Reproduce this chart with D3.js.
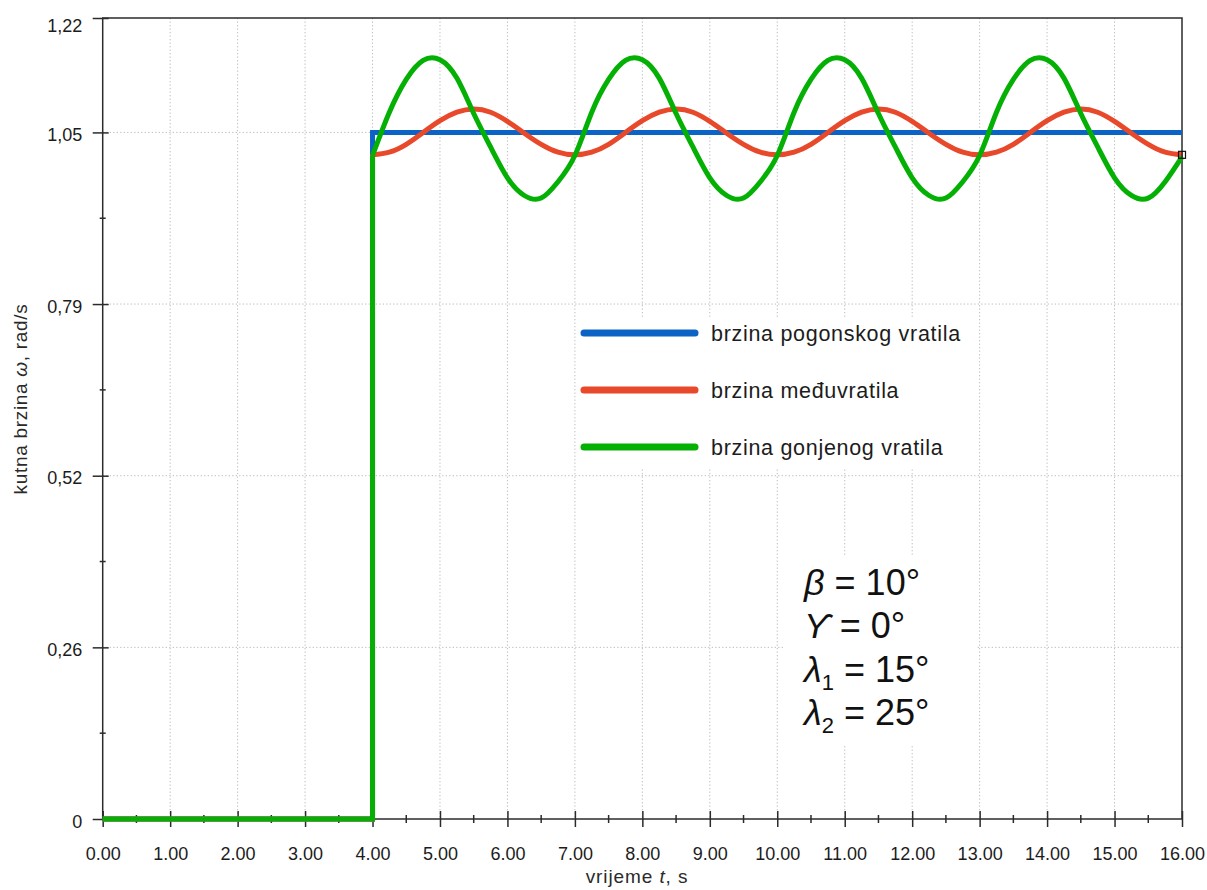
<!DOCTYPE html>
<html>
<head>
<meta charset="utf-8">
<script src="https://cdn.jsdelivr.net/npm/d3@7"></script>
<style>
  body { margin: 0; background: #ffffff; }
  svg { display: block; }
</style>
</head>
<body>
<svg id="chart" width="1207" height="890"></svg>
<script>
// ---------------- data ----------------
const xTickValues = [0, 1, 2, 3, 4, 5, 6, 7, 8, 9, 10, 11, 12, 13, 14, 15, 16];
const xMinorTicks = [0.5, 1.5, 2.5, 3.5, 4.5, 5.5, 6.5, 7.5, 8.5, 9.5, 10.5, 11.5, 12.5, 13.5, 14.5, 15.5];
const yTickValues = [0, 0.2618, 0.5236, 0.7854, 1.0472, 1.2217];
const yTickLabels = ["0", "0,26", "0,52", "0,79", "1,05", "1,22"];
const yMinorTicks = [0.1309, 0.3927, 0.6545, 0.9163];

// before the start (t < 4 s) every shaft is at rest
const restTime = [0, 4];
const restValues = [0, 0];

// driving shaft (blue)
const blueTime = [4, 16];
const blueValues = [1.0472, 1.0472];

// sampled time for intermediate and driven shafts
const sampleTime = [
  4.00, 4.25, 4.50, 4.75, 5.00, 5.25, 5.50, 5.75, 6.00, 6.25, 6.50, 6.75,
  7.00, 7.25, 7.50, 7.75, 8.00, 8.25, 8.50, 8.75, 9.00, 9.25, 9.50, 9.75,
  10.00, 10.25, 10.50, 10.75, 11.00, 11.25, 11.50, 11.75, 12.00, 12.25, 12.50, 12.75,
  13.00, 13.25, 13.50, 13.75, 14.00, 14.25, 14.50, 14.75, 15.00, 15.25, 15.50, 15.75,
  16.00
];
// intermediate shaft (red)
const redValues = [
  1.013, 1.017, 1.029, 1.047, 1.065, 1.078, 1.083, 1.078, 1.064, 1.046, 1.029, 1.017,
  1.013, 1.017, 1.029, 1.047, 1.065, 1.078, 1.083, 1.078, 1.064, 1.046, 1.029, 1.017,
  1.013, 1.017, 1.029, 1.047, 1.065, 1.078, 1.083, 1.078, 1.064, 1.046, 1.029, 1.017,
  1.013, 1.017, 1.029, 1.047, 1.065, 1.078, 1.083, 1.078, 1.064, 1.046, 1.029, 1.017,
  1.013
];
// driven shaft (green)
const greenValues = [
  1.012, 1.078, 1.128, 1.157, 1.158, 1.130, 1.076, 1.025, 0.978, 0.951, 0.947, 0.972,
  1.012, 1.078, 1.128, 1.157, 1.158, 1.130, 1.076, 1.025, 0.978, 0.951, 0.947, 0.972,
  1.012, 1.078, 1.128, 1.157, 1.158, 1.130, 1.076, 1.025, 0.978, 0.951, 0.947, 0.972,
  1.012, 1.078, 1.128, 1.157, 1.158, 1.130, 1.076, 1.025, 0.978, 0.951, 0.947, 0.972,
  1.010
];

const seriesNames = ["brzina pogonskog vratila", "brzina međuvratila", "brzina gonjenog vratila"];
const seriesColors = ["#0b63c6", "#e8492b", "#05b005"];

const annotLines = [
  ["β", "", " = 10°"],
  ["ϒ", "", " = 0°"],
  ["λ", "1", " = 15°"],
  ["λ", "2", " = 25°"]
];

// ---------------- chart ----------------
const FONT = "'Liberation Sans', Arial, Helvetica, sans-serif";
const svg = d3.select("#chart");
const x = d3.scaleLinear().domain([0, 16]).range([102.7, 1182]);
const y = d3.scaleLinear().domain([0, 1.2217]).range([819, 18]);

// grid
const grid = svg.append("g")
  .attr("stroke", "#bdbdbd").attr("stroke-width", 1).attr("stroke-dasharray", "1.3,2.2");
grid.selectAll("line.v").data(xTickValues.filter(d => d > 0 && d < 16)).join("line")
  .attr("class", "v")
  .attr("x1", d => x(d)).attr("x2", d => x(d))
  .attr("y1", y(1.2217)).attr("y2", y(0));
grid.selectAll("line.h").data(yTickValues.filter(d => d > 0 && d < 1.2)).join("line")
  .attr("class", "h")
  .attr("x1", x(0)).attr("x2", x(16))
  .attr("y1", d => y(d)).attr("y2", d => y(d));

// white panels behind legend and annotation
svg.append("rect").attr("x", 578).attr("y", 318).attr("width", 392).attr("height", 150).attr("fill", "#fff");
svg.append("rect").attr("x", 783).attr("y", 555).attr("width", 194).attr("height", 190).attr("fill", "#fff");

// frame
svg.append("rect")
  .attr("x", x(0)).attr("y", y(1.2217))
  .attr("width", x(16) - x(0)).attr("height", y(0) - y(1.2217))
  .attr("fill", "none").attr("stroke", "#2b2b2b").attr("stroke-width", 1.5);

// x axis
const gx = svg.append("g").attr("transform", `translate(0,${y(0)})`)
  .call(d3.axisBottom(x).tickValues(xTickValues).tickFormat(d => d.toFixed(2)).tickSize(8).tickSizeOuter(0));
gx.attr("font-family", FONT).attr("font-size", 18);
gx.select(".domain").remove();
gx.selectAll(".tick line").attr("y1", -8).attr("y2", 8).attr("stroke", "#2b2b2b").attr("stroke-width", 1.5);
gx.selectAll(".tick text").attr("y", 41).attr("dy", null).attr("fill", "#1c1c1c");
gx.selectAll("line.minor").data(xMinorTicks).join("line").attr("class", "minor")
  .attr("x1", d => x(d)).attr("x2", d => x(d)).attr("y1", -4).attr("y2", 4)
  .attr("stroke", "#2b2b2b").attr("stroke-width", 1.5);

// y axis
const gy = svg.append("g").attr("transform", `translate(${x(0)},0)`)
  .call(d3.axisLeft(y).tickValues(yTickValues).tickFormat((d, i) => yTickLabels[i]).tickSize(10).tickSizeOuter(0));
gy.attr("font-family", FONT).attr("font-size", 18);
gy.select(".domain").remove();
gy.selectAll(".tick line").attr("x1", -10).attr("x2", 6).attr("stroke", "#2b2b2b").attr("stroke-width", 1.5);
gy.selectAll(".tick text").attr("x", -20.5).attr("dy", (d, i) => i === yTickValues.length - 1 ? "0.75em" : "0.45em").attr("fill", "#1c1c1c");
gy.selectAll("line.minor").data(yMinorTicks).join("line").attr("class", "minor")
  .attr("x1", -3).attr("x2", 3).attr("y1", d => y(d)).attr("y2", d => y(d))
  .attr("stroke", "#2b2b2b").attr("stroke-width", 1.5);

// axis titles
const yt = svg.append("text")
  .attr("transform", "translate(27,399) rotate(-90)")
  .attr("text-anchor", "middle").attr("font-family", FONT).attr("font-size", 19)
  .attr("letter-spacing", 0.7).attr("fill", "#2a2a2a");
yt.append("tspan").text("kutna brzina ");
yt.append("tspan").attr("font-style", "italic").text("ω");
yt.append("tspan").text(", rad/s");

const xt = svg.append("text")
  .attr("x", 637).attr("y", 883)
  .attr("text-anchor", "middle").attr("font-family", FONT).attr("font-size", 19)
  .attr("letter-spacing", 0.9).attr("fill", "#2a2a2a");
xt.append("tspan").text("vrijeme ");
xt.append("tspan").attr("font-style", "italic").text("t");
xt.append("tspan").text(", s");

// data lines
const lin = d3.line().x(d => x(d[0])).y(d => y(d[1])).curve(d3.curveLinear);
const smooth = d3.line().x(d => x(d[0])).y(d => y(d[1])).curve(d3.curveNatural);
const lines = svg.append("g").attr("fill", "none").attr("stroke-width", 5);

function restPart(v0) {
  return restTime.map((t, i) => [t, restValues[i]]).concat([[4, v0]]);
}
// blue
lines.append("path")
  .attr("d", lin(restPart(blueValues[0]).concat(blueTime.map((t, i) => [t, blueValues[i]]))))
  .attr("stroke", seriesColors[0]).attr("stroke-linejoin", "miter");
// red
lines.append("path").attr("d", lin(restPart(redValues[0]))).attr("stroke", seriesColors[1]);
lines.append("path").attr("d", smooth(sampleTime.map((t, i) => [t, redValues[i]]))).attr("stroke", seriesColors[1]);
// green
lines.append("path").attr("d", lin(restPart(greenValues[0]))).attr("stroke", seriesColors[2]);
lines.append("path").attr("d", smooth(sampleTime.map((t, i) => [t, greenValues[i]]))).attr("stroke", seriesColors[2]);

// end marker
const endX = x(sampleTime[sampleTime.length - 1]);
const endY = y(redValues[redValues.length - 1]);
svg.append("rect").attr("x", endX - 3.5).attr("y", endY - 3.5).attr("width", 7).attr("height", 7)
  .attr("fill", "none").attr("stroke", "#111").attr("stroke-width", 1.2);
svg.append("line").attr("x1", endX).attr("x2", endX).attr("y1", endY - 3.5).attr("y2", endY + 3.5)
  .attr("stroke", "#111").attr("stroke-width", 1);

// legend
const legendY = [333, 390, 447];
const lg = svg.append("g");
lg.selectAll("line").data(seriesNames).join("line")
  .attr("x1", 584).attr("x2", 695)
  .attr("y1", (d, i) => legendY[i]).attr("y2", (d, i) => legendY[i])
  .attr("stroke", (d, i) => seriesColors[i]).attr("stroke-width", 7).attr("stroke-linecap", "round");
lg.selectAll("text").data(seriesNames).join("text")
  .attr("x", 711).attr("y", (d, i) => legendY[i] + 7.5)
  .attr("font-family", FONT).attr("font-size", 21.5).attr("letter-spacing", 0.7)
  .attr("fill", "#1c1c1c").text(d => d);

// annotation
const an = svg.append("g").attr("font-family", FONT).attr("font-size", 36).attr("fill", "#111");
annotLines.forEach((ln, i) => {
  const t = an.append("text").attr("x", 804).attr("y", 595 + i * 43.4);
  t.append("tspan").attr("font-style", "italic").text(ln[0]);
  if (ln[1]) {
    t.append("tspan").attr("font-size", 22).attr("dy", 8).text(ln[1]);
    t.append("tspan").attr("dy", -8).text(ln[2]);
  } else {
    t.append("tspan").text(ln[2]);
  }
});
</script>
</body>
</html>
